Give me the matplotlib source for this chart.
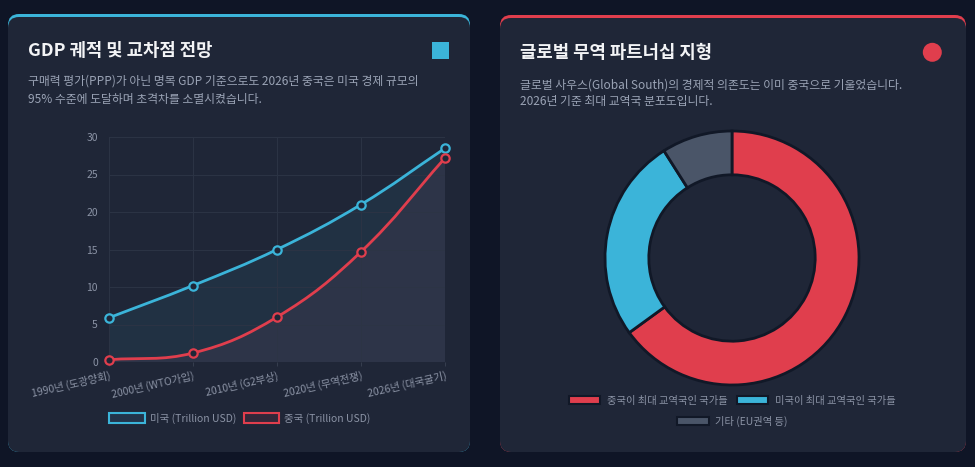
import numpy as np
import matplotlib.pyplot as plt
from matplotlib.patches import FancyBboxPatch, Rectangle, Circle, Patch, PathPatch
from matplotlib.path import Path

plt.rcParams['font.family'] = ['Noto Sans CJK KR', 'DejaVu Sans']

# GDP data (Trillion USD)
years = ["1990년 (도광양회)", "2000년 (WTO가입)", "2010년 (G2부상)", "2020년 (무역전쟁)", "2026년 (대국굴기)"]
usGdp = [5.9, 10.2, 15.0, 21.0, 28.5]
cnGdp = [0.3, 1.2, 6.0, 14.7, 27.2]

# trade partner share (%)
tradeLabels = ["중국이 최대 교역국인 국가들", "미국이 최대 교역국인 국가들", "기타 (EU권역 등)"]
tradeShare = [65, 26, 9]

BG = '#0f1526'
PANEL = '#1f2637'
CYAN = '#3bb4d9'
RED = '#e03e4d'
GRAY = '#4a5568'
SUB = '#9aa3b5'
TICK = '#8b93a5'

W, H = 975, 467
fig = plt.figure(figsize=(W / 100, H / 100), dpi=100, facecolor=BG)


def fx(x):
    return x / W


def fy(y):
    return 1 - y / H


def panel(x0, y0, x1, y1, color):
    # coloured top border, then the panel shifted down a little
    inch = fig.dpi_scale_trans
    top = FancyBboxPatch((x0 / 100, (H - y1) / 100), (x1 - x0) / 100, (y1 - y0) / 100,
                         boxstyle="round,pad=0,rounding_size=0.11", transform=inch,
                         facecolor=color, edgecolor='none', zorder=-2)
    body = FancyBboxPatch((x0 / 100, (H - y1) / 100), (x1 - x0) / 100, (y1 - y0 - 3) / 100,
                          boxstyle="round,pad=0,rounding_size=0.11", transform=inch,
                          facecolor=PANEL, edgecolor='none', zorder=-1)
    fig.patches.extend([top, body])


panel(8, 14, 470, 452, CYAN)
panel(500, 15, 966, 452, RED)

# headers
fig.text(fx(28), fy(51), "GDP 궤적 및 교차점 전망", color='#f3f4f6', fontsize=12.8, fontweight='bold', va='center')
fig.text(fx(28), fy(81), "구매력 평가(PPP)가 아닌 명목 GDP 기준으로도 2026년 중국은 미국 경제 규모의",
         color=SUB, fontsize=8.55, va='center')
fig.text(fx(28), fy(99), "95% 수준에 도달하며 초격차를 소멸시켰습니다.", color=SUB, fontsize=8.55, va='center')
fig.patches.append(Rectangle((432 / 100, (H - 59) / 100), 0.165, 0.17, transform=fig.dpi_scale_trans,
                             facecolor=CYAN, edgecolor='none'))

fig.text(fx(520), fy(53), "글로벌 무역 파트너십 지형", color='#f3f4f6', fontsize=12.8, fontweight='bold', va='center')
fig.text(fx(520), fy(85), "글로벌 사우스(Global South)의 경제적 의존도는 이미 중국으로 기울었습니다.",
         color=SUB, fontsize=8.55, va='center')
fig.text(fx(520), fy(101), "2026년 기준 최대 교역국 분포도입니다.", color=SUB, fontsize=8.55, va='center')
fig.patches.append(Circle((932.3 / 100, (H - 52.3) / 100), 0.095, transform=fig.dpi_scale_trans,
                          facecolor=RED, edgecolor='none'))

# ---- line chart ----
ax = fig.add_axes([fx(109), fy(362), fx(445) - fx(109), fy(137) - fy(362)])
ax.set_facecolor('none')
xs = np.arange(len(years))


def bezier_path(x, y, sx=84.0, sy=7.52, t=0.4):
    # chart.js-like tension spline, control points from data
    pts = np.column_stack([x, y]).astype(float)
    n = len(pts)
    cps = []
    for i in range(n):
        p0 = pts[max(i - 1, 0)]
        p1 = pts[i]
        p2 = pts[min(i + 1, n - 1)]
        d01 = np.hypot((p1[0] - p0[0]) * sx, (p1[1] - p0[1]) * sy)
        d12 = np.hypot((p2[0] - p1[0]) * sx, (p2[1] - p1[1]) * sy)
        tot = d01 + d12 if d01 + d12 > 0 else 1
        fa = t * d01 / tot
        fb = t * d12 / tot
        cps.append((p1 - fa * (p2 - p0), p1 + fb * (p2 - p0)))
    verts = [tuple(pts[0])]
    codes = [Path.MOVETO]
    for i in range(n - 1):
        verts += [tuple(cps[i][1]), tuple(cps[i + 1][0]), tuple(pts[i + 1])]
        codes += [Path.CURVE4] * 3
    return verts, codes


usV, usC = bezier_path(xs, usGdp)
cnV, cnC = bezier_path(xs, cnGdp)

# fill below china
v = cnV + [(xs[-1], 0), (xs[0], 0), cnV[0]]
c = cnC + [Path.LINETO, Path.LINETO, Path.CLOSEPOLY]
ax.add_patch(PathPatch(Path(v, c), facecolor='#4a5068', alpha=0.35, edgecolor='none', zorder=1))
# fill between us and china
cnRev, _ = bezier_path(xs[::-1], cnGdp[::-1])
v = usV + [cnRev[0]] + cnRev[1:] + [usV[0]]
c = usC + [Path.LINETO] + [Path.CURVE4] * (len(cnRev) - 1) + [Path.CLOSEPOLY]
ax.add_patch(PathPatch(Path(v, c), facecolor=CYAN, alpha=0.08, edgecolor='none', zorder=1))

ax.add_patch(PathPatch(Path(usV, usC), facecolor='none', edgecolor=CYAN, lw=2, zorder=3))
ax.add_patch(PathPatch(Path(cnV, cnC), facecolor='none', edgecolor=RED, lw=2, zorder=3))
ax.plot(xs, usGdp, ls='', marker='o', ms=6, mfc=PANEL, mec=CYAN, mew=1.6, zorder=4, clip_on=False)
ax.plot(xs, cnGdp, ls='', marker='o', ms=6, mfc=PANEL, mec=RED, mew=1.6, zorder=4, clip_on=False)

ax.set_xlim(0, len(years) - 1)
ax.set_ylim(0, 30)
ax.set_yticks(range(0, 31, 5))
ax.set_xticks(xs)
ax.set_xticklabels(years, rotation=13, ha='right', rotation_mode='anchor')
ax.tick_params(axis='both', colors=TICK, labelsize=7.5, length=3, width=0.6)
ax.tick_params(axis='y', length=0, pad=8)
ax.tick_params(axis='x', color='#3a4253', pad=3)
ax.grid(True, color='#2c3445', lw=0.7)
for s in ax.spines.values():
    s.set_visible(False)

leg = fig.legend(handles=[Patch(facecolor='#23344a', edgecolor=CYAN, lw=1.5, label='미국 (Trillion USD)'),
                          Patch(facecolor='#33283a', edgecolor=RED, lw=1.5, label='중국 (Trillion USD)')],
                 loc='center', bbox_to_anchor=(fx(240), fy(418)), ncol=2, frameon=False,
                 fontsize=7.5, labelcolor=TICK, handlelength=3.4, handleheight=1.1,
                 handletextpad=0.5, columnspacing=0.7)

# ---- donut ----
R = 127
dax = fig.add_axes([fx(732 - R), fy(258 + R), fx(2 * R), 2 * R / H])
dax.pie(tradeShare, colors=[RED, CYAN, GRAY], startangle=90, counterclock=False, radius=1,
        wedgeprops=dict(width=0.345, edgecolor='#111827', linewidth=2))
dax.set_xlim(-1, 1)
dax.set_ylim(-1, 1)
dax.set_aspect('equal')
dax.axis('off')

h = [Patch(facecolor=col, edgecolor='#111827', lw=1.5, label=lab)
     for col, lab in zip([RED, CYAN, GRAY], tradeLabels)]
fig.legend(handles=h[:2], loc='center', bbox_to_anchor=(fx(732), fy(401)), ncol=2, frameon=False,
           fontsize=7.4, labelcolor=TICK, handlelength=3.1, handleheight=0.8,
           handletextpad=0.6, columnspacing=0.9)
fig.legend(handles=h[2:], loc='center', bbox_to_anchor=(fx(732), fy(421)), ncol=1, frameon=False,
           fontsize=7.4, labelcolor=TICK, handlelength=3.1, handleheight=0.8, handletextpad=0.6)

fig.savefig('out.png', dpi=100, facecolor=BG)
